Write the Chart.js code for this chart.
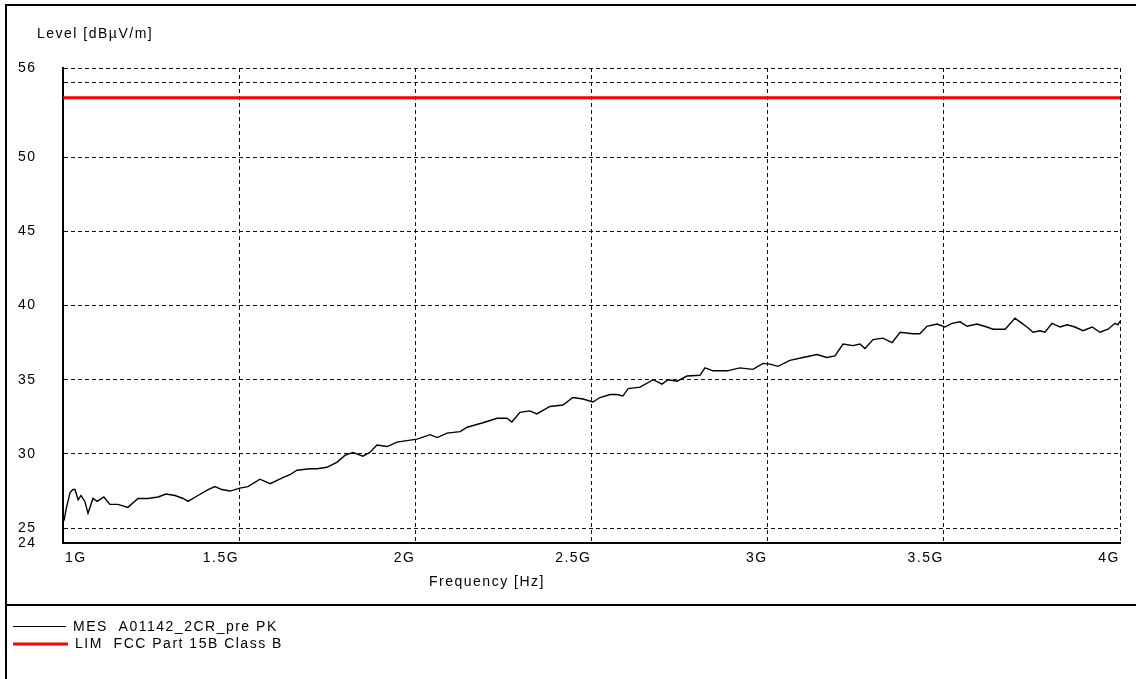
<!DOCTYPE html>
<html>
<head>
<meta charset="utf-8">
<script src="https://cdn.jsdelivr.net/npm/chart.js@4"></script>
<style>
  html, body { margin: 0; padding: 0; background: #fff; }
  #wrap { width: 1136px; height: 679px; }
</style>
</head>
<body>
<div id="wrap"><canvas id="c" width="1136" height="679"></canvas></div>
<script>
// Measured peak trace (frequency in GHz, level in dBµV/m)
const freqGHz = [
  1.003, 1.009, 1.020, 1.028, 1.034, 1.043, 1.051, 1.062, 1.071, 1.085,
  1.097, 1.116, 1.133, 1.156, 1.184, 1.213, 1.241, 1.270, 1.292, 1.318,
  1.341, 1.355, 1.383, 1.412, 1.431, 1.451, 1.474, 1.502, 1.525, 1.559,
  1.588, 1.624, 1.644, 1.664, 1.701, 1.721, 1.749, 1.778, 1.800, 1.823,
  1.851, 1.871, 1.891, 1.920, 1.948, 1.976, 2.005, 2.042, 2.062, 2.090,
  2.127, 2.147, 2.192, 2.232, 2.260, 2.274, 2.297, 2.325, 2.345, 2.382,
  2.419, 2.447, 2.476, 2.504, 2.524, 2.553, 2.572, 2.589, 2.604, 2.638,
  2.675, 2.700, 2.717, 2.743, 2.771, 2.808, 2.822, 2.845, 2.885, 2.921,
  2.958, 2.987, 3.007, 3.029, 3.063, 3.100, 3.140, 3.168, 3.191, 3.214,
  3.242, 3.262, 3.276, 3.299, 3.327, 3.353, 3.376, 3.412, 3.432, 3.452,
  3.481, 3.503, 3.523, 3.546, 3.566, 3.594, 3.622, 3.640, 3.674, 3.702,
  3.716, 3.736, 3.753, 3.773, 3.787, 3.807, 3.830, 3.850, 3.872, 3.895,
  3.921, 3.943, 3.966, 3.986, 3.994, 4.000
];
const levelDb = [
  25.5, 26.3, 27.4, 27.6, 27.6, 26.9, 27.2, 26.8, 26.0, 27.0,
  26.8, 27.1, 26.6, 26.6, 26.4, 27.0, 27.0, 27.1, 27.3, 27.2,
  27.0, 26.8, 27.2, 27.6, 27.8, 27.6, 27.5, 27.7, 27.8, 28.3,
  28.0, 28.4, 28.6, 28.9, 29.0, 29.0, 29.1, 29.45, 29.9, 30.1,
  29.85, 30.1, 30.6, 30.5, 30.8, 30.9, 31.0, 31.3, 31.1, 31.4,
  31.5, 31.8, 32.1, 32.4, 32.4, 32.15, 32.8, 32.9, 32.7, 33.2,
  33.3, 33.8, 33.7, 33.5, 33.8, 34.0, 34.0, 33.9, 34.4, 34.5,
  35.0, 34.7, 35.0, 34.9, 35.25, 35.3, 35.8, 35.6, 35.6, 35.8,
  35.7, 36.1, 36.05, 35.9, 36.3, 36.5, 36.7, 36.5, 36.6, 37.4,
  37.3, 37.4, 37.1, 37.7, 37.8, 37.5, 38.2, 38.1, 38.1, 38.6,
  38.75, 38.55, 38.8, 38.9, 38.6, 38.75, 38.55, 38.4, 38.4, 39.15,
  38.9, 38.55, 38.2, 38.3, 38.2, 38.8, 38.55, 38.7, 38.55, 38.3,
  38.55, 38.2, 38.4, 38.8, 38.7, 38.95
];

// Limit line
const limitFreqGHz = [1, 4];
const limitDb = [54, 54];

// Axis ticks
const xTicks = [1, 1.5, 2, 2.5, 3, 3.5, 4];
const xTickLabels = ['1G', '1.5G', '2G', '2.5G', '3G', '3.5G', '4G'];
const yTicks = [24, 25, 30, 35, 40, 45, 50, 55, 56];
const yTickLabels = ['24', '25', '30', '35', '40', '45', '50', '', '56'];

const seriesNames = ['MES  A01142_2CR_pre PK', 'LIM  FCC Part 15B Class B'];
const yTitle = 'Level [dBµV/m]';
const xTitle = 'Frequency [Hz]';

const FONT_FAMILY = '"Liberation Sans", Arial, sans-serif';
const FONT_SIZE = 14;
const SPACING = '1.5px';
const GRID = '#111';

const toPoints = (xs, ys) => xs.map((x, i) => ({ x, y: ys[i] }));

function setSpacing(chart) {
  if ('letterSpacing' in chart.ctx) chart.ctx.letterSpacing = SPACING;
}

const decor = {
  id: 'decor',
  beforeUpdate: setSpacing,
  beforeDraw: setSpacing,
  afterDraw(chart) {
    const ctx = chart.ctx;
    const xs = chart.scales.x;
    ctx.save();
    if ('letterSpacing' in ctx) ctx.letterSpacing = SPACING;

    // outer frame and legend separator
    ctx.strokeStyle = '#000';
    ctx.lineWidth = 2;
    ctx.beginPath();
    ctx.moveTo(1140, 5); ctx.lineTo(6, 5); ctx.lineTo(6, 684);
    ctx.stroke();
    ctx.beginPath();
    ctx.moveTo(6, 605); ctx.lineTo(1140, 605);
    ctx.stroke();

    ctx.fillStyle = '#000';
    ctx.font = FONT_SIZE + 'px ' + FONT_FAMILY;
    ctx.textBaseline = 'middle';

    // y-axis title above the plot
    ctx.textAlign = 'left';
    ctx.fillText(yTitle, 37, 34);

    // x tick labels: first starts at the axis, the rest end at their grid line
    xTicks.forEach((v, i) => {
      const px = xs.getPixelForValue(v);
      if (i === 0) {
        ctx.textAlign = 'left';
        ctx.fillText(xTickLabels[i], px + 2, 558);
      } else {
        ctx.textAlign = 'right';
        ctx.fillText(xTickLabels[i], px, 558);
      }
    });

    // x-axis title
    ctx.textAlign = 'left';
    ctx.fillText(xTitle, 429, 582);

    // legend
    const rows = [626.5, 644];
    chart.data.datasets.forEach((ds, i) => {
      const y = rows[i];
      ctx.strokeStyle = ds.borderColor;
      ctx.lineWidth = i === 0 ? 1 : 3;
      ctx.beginPath();
      ctx.moveTo(13, y);
      ctx.lineTo(i === 0 ? 66 : 68, y);
      ctx.stroke();
      ctx.fillStyle = '#000';
      ctx.textAlign = 'left';
      ctx.fillText(ds.label, i === 0 ? 73 : 75, Math.round(y));
    });
    ctx.restore();
  }
};

new Chart(document.getElementById('c'), {
  type: 'line',
  data: {
    datasets: [
      {
        label: seriesNames[0],
        data: toPoints(freqGHz, levelDb),
        borderColor: '#000000',
        borderWidth: 1.4,
        pointRadius: 0,
        tension: 0,
        fill: false
      },
      {
        label: seriesNames[1],
        data: toPoints(limitFreqGHz, limitDb),
        borderColor: '#ff0000',
        borderWidth: 3,
        pointRadius: 0,
        tension: 0,
        fill: false
      }
    ]
  },
  options: {
    responsive: false,
    animation: false,
    devicePixelRatio: 1,
    layout: { padding: { left: 18, right: 16, top: 68, bottom: 0 } },
    plugins: {
      legend: { display: false },
      tooltip: { enabled: false },
      title: { display: false }
    },
    scales: {
      x: {
        type: 'linear',
        min: 1,
        max: 4,
        afterBuildTicks: (s) => { s.ticks = xTicks.map(v => ({ value: v })); },
        afterFit: (s) => { s.height = 136; },
        ticks: { display: false },
        grid: {
          color: (c) => (c.tick && c.tick.value === 1) ? 'rgba(0,0,0,0)' : GRID,
          lineWidth: 1,
          drawTicks: false
        },
        border: { display: true, color: '#000', width: 2, dash: [4, 3] }
      },
      y: {
        type: 'linear',
        min: 24,
        max: 56,
        afterBuildTicks: (s) => { s.ticks = yTicks.map(v => ({ value: v })); },
        afterFit: (s) => { s.width = 45; },
        ticks: {
          callback: (v) => { const i = yTicks.indexOf(v); return i >= 0 ? yTickLabels[i] : ''; },
          crossAlign: 'far',
          color: '#000',
          font: { family: FONT_FAMILY, size: FONT_SIZE },
          padding: 0,
          autoSkip: false
        },
        grid: {
          color: (c) => (c.tick && c.tick.value === 24) ? 'rgba(0,0,0,0)' : GRID,
          lineWidth: 1,
          drawTicks: false
        },
        border: { display: true, color: '#000', width: 2, dash: [4, 3] }
      }
    }
  },
  plugins: [decor]
});
</script>
</body>
</html>
